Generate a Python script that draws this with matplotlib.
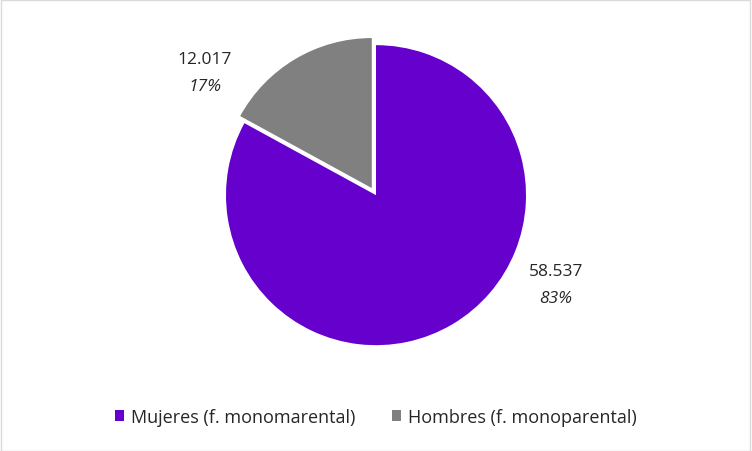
import matplotlib
matplotlib.use("Agg")
import matplotlib.pyplot as plt
from matplotlib.patches import Rectangle

# data
labels = ["Mujeres (f. monomarental)", "Hombres (f. monoparental)"]
values = [58537, 12017]
value_text = ["58.537", "12.017"]
pct_text = ["83%", "17%"]
colors = ["#6600CC", "#808080"]

plt.rcParams['font.family'] = ['Open Sans', 'DejaVu Sans']

fig = plt.figure(figsize=(7.52, 4.52), dpi=100)
fig.patches.append(Rectangle((0.001, 0.001), 0.997, 0.997, transform=fig.transFigure,
                             fill=False, edgecolor="#d9d9d9", linewidth=1))

ax = fig.add_axes([0.5 - 150 / 752, 0.566 - 150 / 452, 300 / 752, 300 / 452])
wedges, _ = ax.pie(values, colors=colors, startangle=90, counterclock=False,
                   explode=[0, 0.055], wedgeprops=dict(linewidth=0))
ax.set_xlim(-1, 1)
ax.set_ylim(-1, 1)
ax.set_aspect("equal")

# data labels
pos = [(556 / 752, 1 - 272 / 452), (205 / 752, 1 - 60 / 452)]
for (x, y), v, p in zip(pos, value_text, pct_text):
    fig.text(x, y, v, ha="center", va="center", fontsize=12.5, color="#262626")
    fig.text(x, y - 27 / 452, p, ha="center", va="center", fontsize=12.5,
             color="#262626", style="italic")

fig.legend(wedges, labels, loc="center", bbox_to_anchor=(0.5, 1 - 418 / 452),
           ncol=2, frameon=False, fontsize=13, handlelength=0.5, handleheight=0.5,
           columnspacing=2.0, handletextpad=0.4, labelcolor="#262626")

fig.savefig("out.png", dpi=100)
